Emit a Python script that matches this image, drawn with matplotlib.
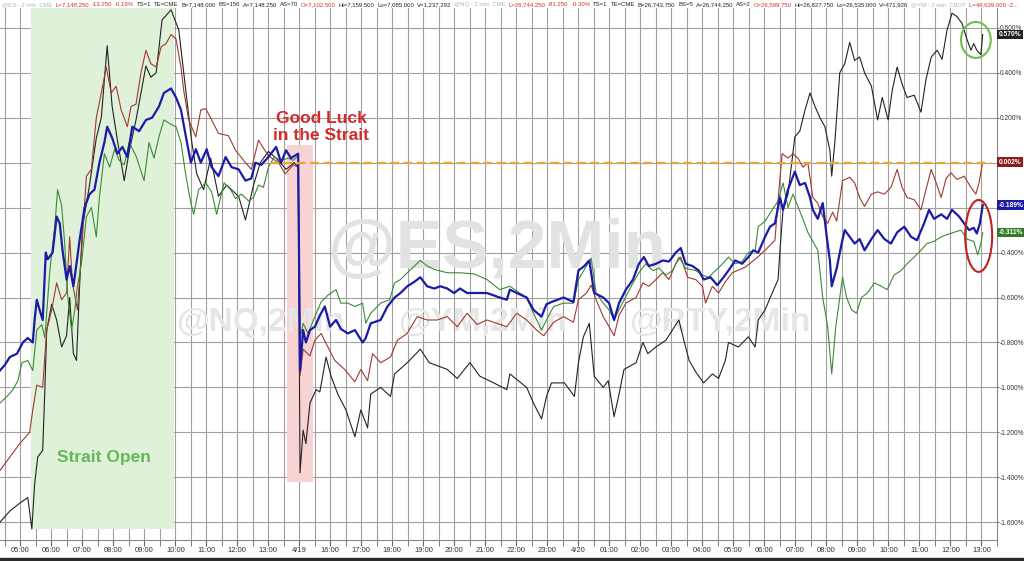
import matplotlib
matplotlib.use("Agg")
import matplotlib.pyplot as plt
from matplotlib.patches import Ellipse, Rectangle

# hour slots along the session axis (index 0 = 05:00 on 4/17)
hour_labels = ["05:00", "06:00", "07:00", "08:00", "09:00", "10:00", "11:00", "12:00",
               "13:00", "4/19", "16:00", "17:00", "18:00", "19:00", "20:00", "21:00",
               "22:00", "23:00", "4/20", "01:00", "02:00", "03:00", "04:00", "05:00",
               "06:00", "07:00", "08:00", "09:00", "10:00", "11:00", "12:00", "13:00"]
y_ticks = [0.6, 0.4, 0.2, 0.0, -0.2, -0.4, -0.6, -0.8, -1.0, -1.2, -1.4, -1.6]

# % change; t = hour slot index
black_t = [-0.66, -0.34, -0.02, 0.24, 0.37, 0.46, 0.56, 0.72, 0.79, 0.85, 1.01, 1.17, 1.33, 1.49,
           1.59, 1.71, 1.81, 1.91, 2.00, 2.23, 2.45, 2.61, 2.80, 2.96, 3.13, 3.35, 3.51, 3.73,
           4.05, 4.21, 4.38, 4.57, 4.86, 5.11, 5.27, 5.37, 5.53, 5.69, 5.91, 6.14, 6.39, 6.65,
           7.04, 7.26, 7.52, 7.74, 8.00, 8.25, 8.57, 8.83, 8.96, 9.02, 9.12, 9.21, 9.34, 9.54,
           9.66, 9.86, 10.02, 10.24, 10.50, 10.79, 10.98, 11.20, 11.30, 11.62, 11.94, 12.07,
           12.48, 12.90, 13.19, 13.77, 14.09, 14.50, 14.82, 15.27, 15.69, 15.79, 16.33, 16.55,
           16.81, 16.97, 17.13, 17.55, 17.87, 18.00, 18.16, 18.35, 18.51, 18.80, 18.96, 19.15,
           19.31, 19.47, 19.86, 20.08, 20.24, 20.50, 20.82, 21.24, 21.40, 21.57, 21.78, 22.04,
           22.32, 22.52, 22.74, 22.84, 23.16, 23.48, 23.70, 23.80, 24.02, 24.25, 24.44, 24.50,
           24.60, 24.76, 24.98, 25.14, 25.31, 25.47, 25.63, 25.79, 25.95, 26.11, 26.17, 26.27,
           26.43, 26.59, 26.75, 26.91, 27.07, 27.23, 27.45, 27.65, 27.80, 27.99, 28.12, 28.28,
           28.44, 28.60, 28.83, 29.05, 29.21, 29.38, 29.57, 29.73, 29.89, 30.05, 30.21, 30.37,
           30.53, 30.66, 30.75, 30.85, 30.98, 31.04]
black_v = [-1.60, -1.55, -1.515, -1.49, -1.63, -1.43, -1.31, -1.28, -1.01, -0.745, -0.63, -0.70,
           -0.82, -0.77, -0.60, -0.85, -0.88, -0.55, -0.29, -0.10, 0.11, 0.20, 0.52, 0.25, 0.10,
           -0.08, 0.05, 0.19, 0.43, 0.38, 0.40, 0.635, 0.68, 0.59, 0.40, 0.28, 0.09, -0.05, -0.12,
           0.02, -0.15, -0.10, -0.15, -0.255, -0.10, 0.00, 0.05, 0.02, -0.03, 0.00, -0.02, -1.38,
           -1.19, -1.25, -1.07, -1.01, -1.02, -0.865, -0.95, -1.03, -1.10, -1.22, -1.10, -1.18,
           -1.03, -1.00, -1.04, -0.94, -0.89, -0.83, -0.89, -0.92, -0.96, -0.89, -0.95, -0.98,
           -1.01, -0.94, -1.00, -1.07, -1.14, -1.04, -0.98, -0.98, -1.04, -0.89, -0.775, -0.715,
           -0.95, -1.00, -0.97, -1.13, -1.03, -0.92, -0.89, -0.80, -0.85, -0.82, -0.79, -0.70,
           -0.79, -0.88, -0.93, -0.98, -0.94, -0.96, -0.88, -0.80, -0.82, -0.775, -0.82, -0.70,
           -0.655, -0.58, -0.52, -0.39, -0.21, -0.14, 0.115, 0.14, 0.235, 0.31, 0.25, 0.20, 0.16,
           0.055, -0.06, 0.09, 0.40, 0.44, 0.535, 0.455, 0.47, 0.40, 0.34, 0.19, 0.29, 0.19, 0.32,
           0.425, 0.35, 0.29, 0.30, 0.225, 0.37, 0.47, 0.50, 0.46, 0.59, 0.665, 0.65, 0.62, 0.55,
           0.50, 0.53, 0.50, 0.48, 0.57]

brown_t = [-0.66, -0.34, -0.02, 0.30, 0.40, 0.53, 0.72, 0.85, 1.01, 1.17, 1.33, 1.49, 1.59, 1.68,
           1.84, 1.97, 2.13, 2.29, 2.45, 2.61, 2.77, 2.93, 3.09, 3.25, 3.45, 3.57, 3.73, 3.89,
           4.05, 4.21, 4.38, 4.54, 4.70, 4.86, 5.02, 5.18, 5.27, 5.43, 5.66, 5.82, 5.98, 6.17,
           6.39, 6.71, 6.94, 7.26, 7.45, 7.68, 8.00, 8.33, 8.54, 8.80, 8.96, 9.02, 9.12, 9.34,
           9.50, 9.70, 9.92, 10.14, 10.46, 10.79, 10.98, 11.20, 11.36, 11.62, 11.94, 12.16,
           12.48, 12.80, 13.12, 13.45, 13.77, 14.09, 14.41, 14.73, 15.05, 15.37, 15.69, 16.01,
           16.33, 16.65, 16.88, 17.20, 17.52, 17.84, 18.00, 18.26, 18.41, 18.57, 18.80, 18.99,
           19.15, 19.31, 19.53, 19.86, 20.08, 20.27, 20.50, 20.72, 20.92, 21.14, 21.30, 21.52,
           21.78, 22.00, 22.10, 22.32, 22.52, 22.74, 22.96, 23.38, 23.70, 24.02, 24.34, 24.44,
           24.57, 24.76, 24.92, 25.08, 25.24, 25.40, 25.56, 25.72, 25.88, 26.04, 26.20, 26.33,
           26.43, 26.52, 26.75, 26.91, 27.07, 27.23, 27.45, 27.65, 27.87, 28.08, 28.28, 28.44,
           28.60, 28.83, 29.05, 29.21, 29.38, 29.54, 29.70, 29.86, 30.02, 30.21, 30.44, 30.66,
           30.82, 30.92, 31.04]
brown_v = [-1.37, -1.31, -1.25, -1.20, -1.10, -0.99, -1.00, -0.745, -0.655, -0.535, -0.61, -0.58,
           -0.33, -0.535, -0.655, -0.40, -0.06, -0.03, 0.20, 0.31, 0.425, 0.31, 0.34, 0.235, 0.16,
           0.25, 0.26, 0.40, 0.50, 0.44, 0.425, 0.515, 0.53, 0.57, 0.55, 0.425, 0.32, 0.19, 0.115,
           0.235, 0.24, 0.19, 0.13, 0.12, 0.055, 0.00, -0.03, 0.10, 0.03, 0.00, -0.05, -0.01,
           -0.02, -0.95, -0.83, -0.86, -0.79, -0.76, -0.82, -0.88, -0.92, -0.975, -0.92, -0.97,
           -0.85, -0.89, -0.865, -0.79, -0.76, -0.685, -0.70, -0.70, -0.685, -0.73, -0.67, -0.72,
           -0.70, -0.715, -0.73, -0.67, -0.70, -0.745, -0.77, -0.71, -0.685, -0.71, -0.61, -0.58,
           -0.545, -0.61, -0.685, -0.73, -0.77, -0.68, -0.625, -0.60, -0.535, -0.55, -0.52, -0.49,
           -0.52, -0.45, -0.42, -0.51, -0.52, -0.55, -0.625, -0.55, -0.58, -0.53, -0.49, -0.465,
           -0.43, -0.39, -0.345, -0.165, 0.04, 0.02, 0.04, 0.02, -0.02, 0.00, -0.155, -0.18,
           -0.24, -0.27, -0.22, -0.26, -0.165, -0.08, -0.065, -0.09, -0.155, -0.195, -0.14, -0.13,
           -0.14, -0.11, -0.03, -0.11, -0.155, -0.165, -0.21, -0.12, -0.03, -0.09, -0.155, -0.07,
           -0.045, -0.075, -0.06, -0.11, -0.14, -0.09, 0.002]

blue_t = [-0.66, -0.50, -0.34, -0.11, 0.08, 0.24, 0.40, 0.46, 0.53, 0.62, 0.72, 0.82, 0.88, 1.04,
          1.17, 1.27, 1.36, 1.49, 1.59, 1.71, 1.81, 1.91, 2.07, 2.23, 2.39, 2.55, 2.71, 2.80,
          2.96, 3.13, 3.29, 3.45, 3.61, 3.83, 4.05, 4.25, 4.47, 4.63, 4.86, 5.02, 5.18, 5.34,
          5.50, 5.66, 5.82, 6.01, 6.17, 6.39, 6.62, 6.81, 7.04, 7.26, 7.45, 7.58, 7.77, 8.00,
          8.25, 8.41, 8.57, 8.73, 8.96, 9.02, 9.12, 9.21, 9.34, 9.50, 9.66, 9.82, 9.99, 10.18,
          10.34, 10.56, 10.79, 11.04, 11.14, 11.30, 11.62, 11.84, 12.07, 12.26, 12.48, 12.71,
          12.90, 13.12, 13.35, 13.54, 13.77, 13.99, 14.18, 14.41, 14.82, 15.05, 15.46, 15.69,
          15.79, 16.01, 16.33, 16.55, 16.81, 16.97, 17.13, 17.52, 17.84, 18.00, 18.19, 18.35,
          18.51, 18.80, 18.99, 19.15, 19.31, 19.53, 19.76, 19.95, 20.11, 20.27, 20.50, 20.72,
          20.92, 21.14, 21.30, 21.46, 21.68, 21.88, 22.04, 22.26, 22.48, 22.68, 22.84, 23.06,
          23.28, 23.48, 23.64, 23.80, 24.02, 24.18, 24.34, 24.50, 24.60, 24.76, 24.98, 25.14,
          25.31, 25.47, 25.56, 25.72, 25.88, 26.01, 26.11, 26.17, 26.33, 26.49, 26.59, 26.75,
          26.91, 27.07, 27.23, 27.45, 27.65, 27.87, 28.08, 28.28, 28.51, 28.73, 28.92, 29.15,
          29.31, 29.47, 29.70, 29.89, 30.05, 30.28, 30.44, 30.60, 30.75, 30.85, 30.95, 31.04]
blue_v = [-0.925, -0.90, -0.865, -0.85, -0.80, -0.78, -0.80, -0.70, -0.61, -0.655, -0.70, -0.40,
          -0.43, -0.40, -0.24, -0.27, -0.39, -0.52, -0.46, -0.55, -0.45, -0.345, -0.20, -0.14,
          -0.12, 0.00, 0.09, 0.16, 0.11, 0.04, 0.07, 0.025, 0.16, 0.14, 0.19, 0.20, 0.25, 0.31,
          0.33, 0.29, 0.235, 0.115, 0.00, 0.06, 0.00, 0.06, -0.02, -0.06, 0.025, -0.02, -0.03,
          -0.08, -0.07, 0.00, -0.01, 0.025, 0.07, 0.00, 0.055, 0.02, 0.04, -0.925, -0.745, -0.80,
          -0.745, -0.73, -0.68, -0.64, -0.73, -0.70, -0.74, -0.76, -0.745, -0.80, -0.78, -0.715,
          -0.70, -0.64, -0.60, -0.58, -0.55, -0.53, -0.51, -0.55, -0.56, -0.55, -0.56, -0.58,
          -0.56, -0.58, -0.58, -0.58, -0.60, -0.61, -0.565, -0.58, -0.60, -0.655, -0.685, -0.63,
          -0.62, -0.60, -0.62, -0.48, -0.46, -0.435, -0.58, -0.60, -0.625, -0.70, -0.625, -0.565,
          -0.52, -0.45, -0.42, -0.46, -0.45, -0.435, -0.44, -0.40, -0.38, -0.45, -0.46, -0.48,
          -0.52, -0.51, -0.545, -0.51, -0.48, -0.435, -0.45, -0.42, -0.39, -0.40, -0.33, -0.285,
          -0.27, -0.155, -0.21, -0.12, -0.04, -0.10, -0.09, -0.155, -0.21, -0.25, -0.18, -0.33,
          -0.435, -0.55, -0.47, -0.36, -0.30, -0.33, -0.36, -0.34, -0.39, -0.34, -0.30, -0.34,
          -0.36, -0.31, -0.285, -0.33, -0.345, -0.27, -0.21, -0.25, -0.23, -0.25, -0.21, -0.24,
          -0.27, -0.30, -0.29, -0.315, -0.27, -0.189]

green_t = [-0.66, -0.43, -0.24, -0.08, 0.05, 0.24, 0.40, 0.53, 0.69, 0.79, 0.95, 1.11, 1.20, 1.33,
           1.43, 1.52, 1.65, 1.75, 1.84, 1.97, 2.13, 2.29, 2.45, 2.55, 2.71, 2.88, 3.04, 3.19,
           3.35, 3.51, 3.73, 3.99, 4.15, 4.31, 4.47, 4.63, 4.86, 5.02, 5.18, 5.34, 5.50, 5.59,
           5.75, 5.98, 6.17, 6.33, 6.57, 6.78, 6.94, 7.13, 7.36, 7.52, 7.68, 7.84, 8.00, 8.19,
           8.41, 8.64, 8.80, 8.96, 9.02, 9.12, 9.28, 9.50, 9.70, 9.92, 10.18, 10.34, 10.56, 10.79,
           11.04, 11.14, 11.30, 11.62, 11.91, 12.07, 12.26, 12.48, 12.71, 12.90, 13.12, 13.35,
           13.77, 14.18, 14.63, 15.05, 15.46, 15.79, 16.11, 16.33, 16.55, 16.81, 16.97, 17.20,
           17.52, 17.84, 18.00, 18.26, 18.41, 18.57, 18.80, 18.99, 19.15, 19.31, 19.53, 19.76,
           19.95, 20.17, 20.40, 20.60, 20.82, 21.04, 21.24, 21.46, 21.78, 22.00, 22.20, 22.42,
           22.65, 22.84, 23.06, 23.28, 23.48, 23.70, 23.80, 24.02, 24.25, 24.44, 24.60, 24.76,
           24.92, 25.08, 25.24, 25.40, 25.56, 25.72, 25.88, 26.04, 26.17, 26.30, 26.43, 26.52,
           26.65, 26.81, 26.97, 27.13, 27.32, 27.55, 27.77, 27.96, 28.18, 28.41, 28.60, 28.83,
           29.05, 29.24, 29.47, 29.70, 29.89, 30.12, 30.34, 30.53, 30.75, 30.88, 30.98, 31.04]
green_v = [-1.07, -1.04, -1.01, -0.97, -0.89, -0.88, -0.925, -0.745, -0.72, -0.78, -0.48, -0.285,
           -0.12, -0.19, -0.36, -0.58, -0.745, -0.66, -0.55, -0.45, -0.24, -0.20, -0.33, -0.155,
           0.04, -0.02, 0.06, 0.01, -0.01, 0.09, 0.03, -0.08, 0.09, 0.02, 0.115, 0.19, 0.17, 0.16,
           0.09, -0.06, -0.18, -0.23, -0.12, -0.09, -0.13, -0.23, -0.09, -0.12, -0.16, -0.14,
           -0.17, -0.155, -0.10, -0.11, -0.02, 0.025, 0.01, 0.02, 0.01, 0.03, -0.78, -0.715, -0.76,
           -0.685, -0.62, -0.59, -0.565, -0.625, -0.625, -0.64, -0.625, -0.715, -0.67, -0.625,
           -0.61, -0.535, -0.52, -0.49, -0.46, -0.435, -0.46, -0.475, -0.49, -0.49, -0.495, -0.52,
           -0.565, -0.55, -0.58, -0.60, -0.67, -0.745, -0.70, -0.64, -0.625, -0.625, -0.52, -0.46,
           -0.425, -0.58, -0.625, -0.655, -0.70, -0.655, -0.595, -0.535, -0.49, -0.45, -0.48,
           -0.47, -0.50, -0.48, -0.42, -0.47, -0.48, -0.50, -0.51, -0.48, -0.45, -0.42, -0.45,
           -0.44, -0.40, -0.39, -0.285, -0.26, -0.21, -0.17, -0.09, -0.20, -0.14, -0.195, -0.25,
           -0.31, -0.35, -0.39, -0.60, -0.73, -0.94, -0.73, -0.60, -0.51, -0.60, -0.655, -0.67,
           -0.60, -0.58, -0.535, -0.55, -0.565, -0.50, -0.48, -0.45, -0.42, -0.39, -0.36, -0.35,
           -0.33, -0.32, -0.31, -0.30, -0.34, -0.35, -0.41, -0.36, -0.311]

end_values = [0.570, 0.002, -0.189, -0.311]
end_labels = ["0.570%", "0.002%", "-0.189%", "-0.311%"]

BLACK = "#222222"
BROWN = "#9c3b2e"
BLUE = "#1b1ba8"
GREEN = "#3b8a36"
GRAY_Q = "#b4b4b4"
RED_Q = "#d03030"
INK_Q = "#222222"

# quote header strip, left to right
header = [
    ("@ES - 2 min  CME", GRAY_Q), ("L=7,148.250", RED_Q), ("-13.250", RED_Q), ("-0.19%", RED_Q),
    ("TS=1", INK_Q), ("TE=CME", INK_Q), ("B=7,148.000", INK_Q), ("BS=156", INK_Q),
    ("A=7,148.250", INK_Q), ("AS=70", INK_Q), ("O=7,102.500", RED_Q), ("Hi=7,159.500", INK_Q),
    ("Lo=7,085.000", INK_Q), ("V=1,237,292", INK_Q),
    ("@NQ - 2 min  CME", GRAY_Q), ("L=26,744.250", RED_Q), ("-81.250", RED_Q), ("-0.30%", RED_Q),
    ("TS=1", INK_Q), ("TE=CME", INK_Q), ("B=26,743.750", INK_Q), ("BS=5", INK_Q),
    ("A=26,744.250", INK_Q), ("AS=2", INK_Q), ("O=26,599.750", RED_Q), ("Hi=26,827.750", INK_Q),
    ("Lo=26,535.000", INK_Q), ("V=471,926", INK_Q),
    ("@YM - 2 min  CBOT", GRAY_Q), ("L=49,639.000 -2...", RED_Q),
]

fig = plt.figure(figsize=(10.24, 5.61), dpi=100)
ax = fig.add_axes([0.0, 0.0374, 0.9736, 0.9483])
ax.set_xlim(-0.657, 31.30)
ax.set_ylim(-1.679, 0.688)

# grid: half-hour verticals, 0.2% horizontals
for k in range(-1, 63):
    ax.axvline(k * 0.5, color="#a0a0a0", lw=0.8, zorder=0)
for v in y_ticks:
    ax.axhline(v, color="#a0a0a0", lw=0.8, zorder=0)

# highlighted windows
ax.axvspan(0.33, 4.95, ymin=0.02, ymax=1.0, color="#dff2d9", zorder=0.5, lw=0)
ax.add_patch(Rectangle((8.61, -1.42), 0.83, 1.50, color="#f8d3d3", zorder=0.5, lw=0))

# watermarks
ax.text(15.38, -0.39, "@ES,2Min", fontsize=50, fontweight="bold", color="#e2e2e2",
        ha="center", va="center", family="Liberation Sans", zorder=0.8)
for xpos, txt in [(7.74, "@NQ,2Min"), (14.89, "@YM,2Min"), (22.55, "@RTY,2Min")]:
    ax.text(xpos, -0.71, txt, fontsize=24, fontweight="bold", color="#e6e6e6",
            ha="center", va="center", family="Liberation Sans", zorder=0.8)

# zero reference
ax.plot([8.06, 31.30], [0, 0], color="#f0a22e", lw=1.6, dashes=(4, 2), zorder=3)

ax.plot(black_t, black_v, color=BLACK, lw=0.8, zorder=2)
ax.plot(brown_t, brown_v, color=BROWN, lw=0.8, zorder=2)
ax.plot(green_t, green_v, color=GREEN, lw=0.8, zorder=2)
ax.plot(blue_t, blue_v, color=BLUE, lw=1.6, zorder=2.5)

ax.text(2.68, -1.31, "Strait Open", fontsize=12.5, fontweight="bold", color="#62b857",
        ha="center", va="center", family="Liberation Sans", zorder=4)
ax.text(9.70, 0.16, "Good Luck\nin the Strait", fontsize=12.5, fontweight="bold",
        color="#d42a2a", ha="center", va="center", linespacing=1.15,
        family="Liberation Sans", zorder=4)

ax.add_patch(Ellipse((30.82, 0.546), 0.96, 0.16, fill=False, ec="#6cc04a", lw=1.5,
                     clip_on=False, zorder=5))
ax.add_patch(Ellipse((30.91, -0.326), 0.87, 0.32, fill=False, ec="#c42020", lw=1.5,
                     clip_on=False, zorder=5))

# axes styling
ax.set_xticks(range(len(hour_labels)))
ax.set_xticklabels(hour_labels)
ax.set_xticks([k + 0.5 for k in range(-1, 32)], minor=True)
ax.tick_params(axis="x", which="both", direction="out", length=4, color="#666666",
               labelsize=5.5, labelcolor="#333333", pad=1)
ax.yaxis.tick_right()
ax.set_yticks(y_ticks)
# 0.000% and -0.200% sit under the last-value tags, so they stay blank
ax.set_yticklabels(["" if v in (0.0, -0.2) else f"{v:.3f}%" for v in y_ticks])
ax.tick_params(axis="y", direction="out", length=1.5, color="#666666", labelsize=4.8,
               labelcolor="#333333", pad=0.5)
for lab in ax.get_xticklabels() + ax.get_yticklabels():
    lab.set_family("Liberation Sans")
for side in ["top", "left"]:
    ax.spines[side].set_visible(False)
for side in ["right", "bottom"]:
    ax.spines[side].set_color("#888888")
    ax.spines[side].set_linewidth(0.8)

for val, lab, col in zip(end_values, end_labels, [BLACK, "#8b1c1c", BLUE, "#2f7d2a"]):
    ax.annotate(lab, xy=(1.0, val), xycoords=("axes fraction", "data"), xytext=(1.2, 0),
                textcoords="offset points", ha="left", va="center", fontsize=4.8,
                fontweight="bold", color="white", family="Liberation Sans",
                bbox=dict(boxstyle="square,pad=0.2", fc=col, ec="none"), zorder=6,
                annotation_clip=False)

# header pieces laid out one after another
renderer = fig.canvas.get_renderer()
xpix = 2.0
for txt, col in header:
    t = fig.text(xpix / 1024, 1 - 4.5 / 561, txt, fontsize=4.3, color=col, va="center",
                 family="Liberation Sans")
    xpix = t.get_window_extent(renderer).x1 + 2.8

fig.patches.append(Rectangle((0, 0), 1, 3 / 561, transform=fig.transFigure,
                             color="#2b2b2b", zorder=0))

fig.savefig("out.png", dpi=100)
